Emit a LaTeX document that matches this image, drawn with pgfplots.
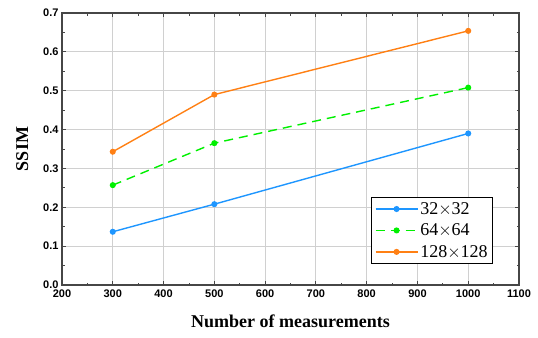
\documentclass[border=0pt]{standalone}
\usepackage{fontspec}
\setmainfont{Liberation Serif}
\newfontfamily\ticksf{Liberation Sans}
\usepackage{pgfplots}
\pgfplotsset{compat=1.18}

\definecolor{cblue}{RGB}{30,150,255}
\definecolor{cgreen}{RGB}{0,240,0}
\definecolor{corange}{RGB}{255,128,20}
\definecolor{cgrid}{RGB}{208,208,208}
\definecolor{cframe}{RGB}{70,70,70}

\begin{document}
\begin{tikzpicture}
\begin{axis}[
  scale only axis,
  width=457pt, height=272pt,
  xmin=200, xmax=1100, ymin=0, ymax=0.7,
  xtick={200,300,...,1100},
  ytick={0,0.1,...,0.7},
  minor x tick num=1,
  minor y tick num=1,
  xticklabel style={/pgf/number format/set thousands separator={}, yshift=-1pt},
  yticklabel style={/pgf/number format/.cd,fixed,fixed zerofill,precision=1},
  /pgf/number format/assume math mode=true,
  tick label style={font=\ticksf\bfseries\fontsize{11}{13}\selectfont, text=black},
  tick align=inside,
  tick style={cframe, line width=0.8pt},
  major tick length=4pt,
  minor tick length=2.5pt,
  xtick pos=both, ytick pos=both,
  grid=major,
  major grid style={cgrid, line width=1pt},
  axis line style={cframe, line width=1.1pt},
  xlabel={\bfseries\fontsize{18}{20}\selectfont Number of measurements},
  ylabel={\bfseries\fontsize{18}{20}\selectfont SSIM},
  xlabel style={at={(axis description cs:0.5,0)}, anchor=north, yshift=-26pt},
  ylabel style={at={(axis description cs:-0.066,0.5)}, anchor=south},
  legend style={
    at={(axis cs:1049,0.054)}, anchor=south east,
    draw=black, line width=0.8pt,
    font=\fontsize{18}{20}\selectfont,
    row sep=4pt, inner sep=3pt,
    fill=white,
  },
  legend cell align=left,
  legend image code/.code={
    \draw[#1] (0pt,0pt) -- (42pt,0pt);
    \draw[#1, solid, mark repeat=1] plot coordinates {(21pt,0pt)};
  },
]
\addplot[cblue, line width=1.4pt, mark=*, mark size=2.3pt]
  coordinates {(300,0.137) (500,0.208) (1000,0.390)};
\addlegendentry{32$\times$32}
\addplot[cgreen, line width=1.4pt, dash pattern=on 9pt off 6pt, mark=*, mark size=2.3pt, mark options={solid}]
  coordinates {(300,0.257) (500,0.365) (1000,0.508)};
\addlegendentry{64$\times$64}
\addplot[corange, line width=1.4pt, mark=*, mark size=2.3pt]
  coordinates {(300,0.343) (500,0.490) (1000,0.654)};
\addlegendentry{128$\times$128}
\end{axis}
\pgfresetboundingbox
\path (current axis.south west) ++(-62pt,-52pt) rectangle ([shift={(19pt,13pt)}]current axis.north east);
\end{tikzpicture}
\end{document}
